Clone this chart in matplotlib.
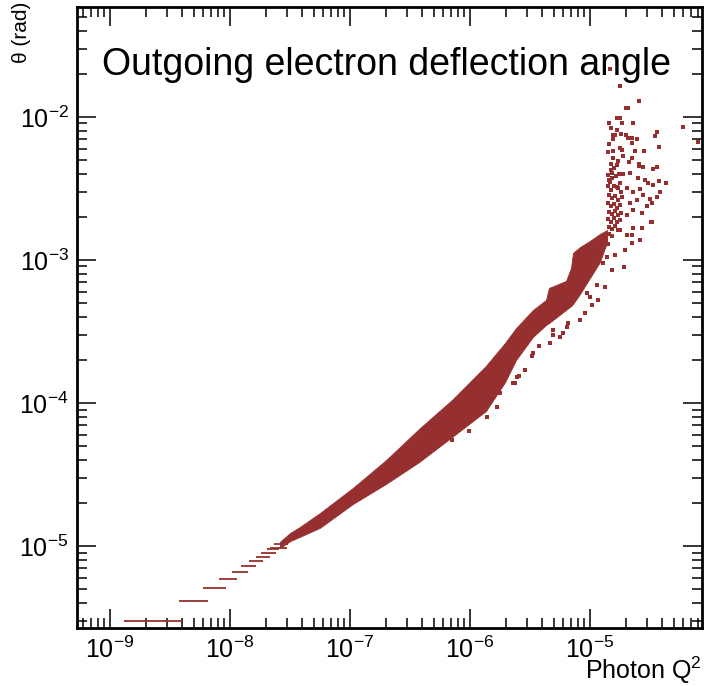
import numpy as np
import matplotlib
matplotlib.use('Agg')
import matplotlib.pyplot as plt

plt.rcParams['font.family'] = ['Liberation Sans', 'DejaVu Sans']
plt.rcParams['mathtext.fontset'] = 'custom'
plt.rcParams['mathtext.rm'] = 'Liberation Sans'
plt.rcParams['mathtext.it'] = 'Liberation Sans:italic'
plt.rcParams['mathtext.bf'] = 'Liberation Sans:bold'

# dense core of the scatter: edges
q2_band = [2.61e-8, 3.16e-8, 3.83e-8, 5.62e-8, 1.06e-7, 2.00e-7, 3.76e-7, 7.08e-7,
           1.36e-6, 1.96e-6, 2.42e-6, 3.35e-6, 4.30e-6, 4.55e-6, 6.31e-6, 6.95e-6,
           7.22e-6, 8.25e-6, 1.00e-5, 1.21e-5, 1.39e-5]
theta_hi = [1.07e-5, 1.23e-5, 1.36e-5, 1.70e-5, 2.55e-5, 3.99e-5, 6.58e-5, 1.05e-4,
            1.82e-4, 2.63e-4, 3.34e-4, 4.47e-4, 5.25e-4, 6.37e-4, 7.13e-4, 8.79e-4,
            1.12e-3, 1.23e-3, 1.36e-3, 1.52e-3, 1.62e-3]
theta_lo = [9.68e-6, 1.08e-5, 1.16e-5, 1.34e-5, 1.97e-5, 2.72e-5, 3.86e-5, 5.78e-5,
            8.79e-5, 1.40e-4, 2.00e-4, 2.90e-4, 3.51e-4, 3.62e-4, 4.47e-4, 4.76e-4,
            4.92e-4, 5.78e-4, 7.48e-4, 9.68e-4, 1.34e-3]

# quantised angles at low Q2 (horizontal dashes)
step_theta = [2.99e-6, 4.12e-6, 5.06e-6, 5.85e-6, 6.58e-6, 7.21e-6, 7.89e-6, 8.38e-6,
              8.89e-6, 9.48e-6, 9.73e-6, 1.03e-5]
step_q2_lo = [1.31e-9, 3.76e-9, 5.92e-9, 8.14e-9, 1.045e-8, 1.24e-8, 1.43e-8, 1.65e-8,
              1.82e-8, 2.02e-8, 2.15e-8, 2.33e-8]
step_q2_hi = [3.95e-9, 6.56e-9, 9.32e-9, 1.15e-8, 1.42e-8, 1.65e-8, 1.89e-8, 2.15e-8,
              2.42e-8, 2.56e-8, 2.97e-8, 3.03e-8]

# sparse events
q2_pts = [1.46e-5, 1.79e-5, 2.55e-5, 2.00e-5, 2.07e-5, 1.67e-5, 1.79e-5, 1.45e-5, 1.86e-5, 2.30e-5,
          1.50e-5, 1.67e-5, 5.96e-5, 7.94e-5, 3.64e-5, 3.50e-5, 1.56e-5, 1.62e-5, 1.80e-5, 2.00e-5,
          2.06e-5, 2.23e-5, 2.48e-5, 1.56e-5, 1.45e-5, 2.23e-5, 3.76e-5, 1.78e-5, 1.86e-5, 2.37e-5,
          2.84e-5, 1.40e-5, 1.56e-5, 1.89e-5, 2.23e-5, 1.56e-5, 1.70e-5, 2.13e-5, 1.49e-5, 2.55e-5,
          2.58e-5, 2.78e-5, 3.37e-5, 3.64e-5, 1.52e-5, 1.89e-5, 2.15e-5, 2.53e-5, 2.87e-5, 3.06e-5,
          3.76e-5, 4.30e-5, 3.37e-5, 1.47e-5, 1.78e-5, 1.67e-5, 2.02e-5, 2.30e-5, 2.61e-5, 2.75e-5,
          3.83e-5, 3.16e-5, 3.59e-5, 2.45e-5, 2.15e-5, 2.97e-5, 3.27e-5, 2.30e-5, 2.02e-5, 2.70e-5,
          3.24e-5, 2.70e-5, 2.27e-5, 1.78e-5, 2.02e-5, 2.23e-5,
          1.41e-5, 1.50e-5, 1.58e-5, 1.68e-5, 1.44e-5, 1.53e-5, 1.65e-5, 1.74e-5, 1.41e-5, 1.50e-5,
          1.58e-5, 1.71e-5, 1.81e-5, 1.44e-5, 1.53e-5, 1.62e-5, 1.71e-5, 1.85e-5, 1.41e-5, 1.50e-5,
          1.58e-5, 1.68e-5, 1.78e-5, 1.44e-5, 1.53e-5, 1.62e-5, 1.71e-5, 1.81e-5, 1.41e-5, 1.50e-5,
          1.58e-5, 1.68e-5, 1.78e-5, 1.44e-5, 1.53e-5, 1.62e-5, 1.71e-5, 1.44e-5, 1.53e-5, 1.36e-5,
          1.41e-5,
          9.39e-6, 1.00e-5, 1.14e-5, 1.29e-5, 1.38e-5, 9.09e-6, 6.40e-6, 5.62e-6, 4.64e-6, 4.94e-6,
          6.59e-6, 1.03e-5, 8.25e-6, 5.99e-6, 4.94e-6, 3.37e-6, 2.45e-6, 2.30e-6, 1.78e-6, 1.67e-6,
          1.38e-6, 9.75e-7, 8.05e-7, 7.08e-7, 4.67e-7, 2.55e-6, 2.89e-6, 3.29e-6, 3.74e-6, 2.38e-6,
          1.91e-5, 1.34e-5, 2.24e-5, 3.29e-5, 2.71e-5, 1.96e-5, 1.62e-5, 2.61e-5, 1.53e-5, 1.17e-5]
theta_pts = [2.17e-2, 1.64e-2, 1.29e-2, 1.15e-2, 1.15e-2, 9.89e-3, 9.89e-3, 9.08e-3, 9.08e-3, 9.08e-3,
             8.34e-3, 8.07e-3, 8.55e-3, 6.72e-3, 7.82e-3, 7.36e-3, 7.48e-3, 7.48e-3, 7.57e-3, 7.48e-3,
             7.16e-3, 7.16e-3, 6.98e-3, 6.98e-3, 6.47e-3, 6.55e-3, 6.17e-3, 6.10e-3, 5.88e-3, 5.81e-3,
             5.81e-3, 5.66e-3, 5.78e-3, 5.36e-3, 5.19e-3, 5.14e-3, 4.92e-3, 4.87e-3, 4.71e-3, 4.67e-3,
             4.54e-3, 4.45e-3, 4.31e-3, 4.49e-3, 4.04e-3, 3.99e-3, 4.04e-3, 3.73e-3, 3.63e-3, 3.44e-3,
             3.58e-3, 3.44e-3, 3.35e-3, 3.53e-3, 3.44e-3, 3.26e-3, 3.17e-3, 3.00e-3, 3.12e-3, 2.86e-3,
             2.99e-3, 2.66e-3, 2.77e-3, 2.63e-3, 2.52e-3, 2.39e-3, 2.49e-3, 2.24e-3, 2.06e-3, 2.12e-3,
             1.84e-3, 1.68e-3, 1.67e-3, 1.62e-3, 1.50e-3, 1.50e-3,
             3.93e-3, 4.26e-3, 4.40e-3, 4.61e-3, 3.63e-3, 3.75e-3, 3.87e-3, 3.99e-3, 3.29e-3, 3.09e-3,
             3.29e-3, 3.19e-3, 2.99e-3, 2.85e-3, 2.71e-3, 2.80e-3, 2.63e-3, 2.76e-3, 2.50e-3, 2.39e-3,
             2.46e-3, 2.31e-3, 2.42e-3, 2.17e-3, 2.10e-3, 2.20e-3, 2.06e-3, 2.13e-3, 1.94e-3, 1.84e-3,
             1.97e-3, 1.84e-3, 1.90e-3, 1.70e-3, 1.65e-3, 1.73e-3, 1.62e-3, 1.52e-3, 1.47e-3, 1.38e-3,
             1.29e-3,
             5.85e-4, 5.54e-4, 6.69e-4, 9.48e-4, 1.05e-3, 4.24e-4, 3.42e-4, 2.91e-4, 2.62e-4, 3.24e-4,
             3.61e-4, 4.84e-4, 3.81e-4, 3.07e-4, 2.99e-4, 2.23e-4, 1.53e-4, 1.37e-4, 1.17e-4, 9.42e-5,
             8.02e-5, 6.34e-5, 6.51e-5, 5.54e-5, 4.71e-5, 1.54e-4, 1.71e-4, 2.12e-4, 2.49e-4, 1.38e-4,
             8.98e-4, 6.51e-4, 1.31e-3, 1.85e-3, 1.67e-3, 1.17e-3, 1.08e-3, 1.38e-3, 8.51e-4, 5.25e-4]

col = '#962f2f'

fig = plt.figure(figsize=(7.04, 6.86), dpi=100)
ax = fig.add_axes([77/704, 58/686, 625/704, 621/686])
ax.set_xscale('log')
ax.set_yscale('log')

ax.fill_between(q2_band, theta_lo, theta_hi, color=col, lw=0.6, zorder=2)
ax.hlines(step_theta, step_q2_lo, step_q2_hi, color=col, lw=1.3, zorder=2)
ax.plot(q2_pts, theta_pts, 's', color=col, ms=2.4, mew=0, zorder=3)

ax.set_xlim(5.31e-10, 8.58e-5)
ax.set_ylim(2.67e-6, 5.87e-2)

for s in ax.spines.values():
    s.set_linewidth(2)
ax.tick_params(which='both', direction='in', top=True, right=True, width=1.1, labelsize=18)
ax.tick_params(which='major', length=14, pad=6)
ax.tick_params(which='minor', length=7)

ax.text(0.04, 0.8905, 'Outgoing electron deflection angle', transform=ax.transAxes,
        fontsize=27, va='baseline', ha='left')
fig.text(0.997, 0.0, 'Photon Q$^2$', fontsize=18, ha='right', va='bottom')
fig.text(0.031, 0.998, 'θ (rad)', fontsize=15, rotation=90, ha='center', va='top')

plt.savefig('out.png', dpi=100)
